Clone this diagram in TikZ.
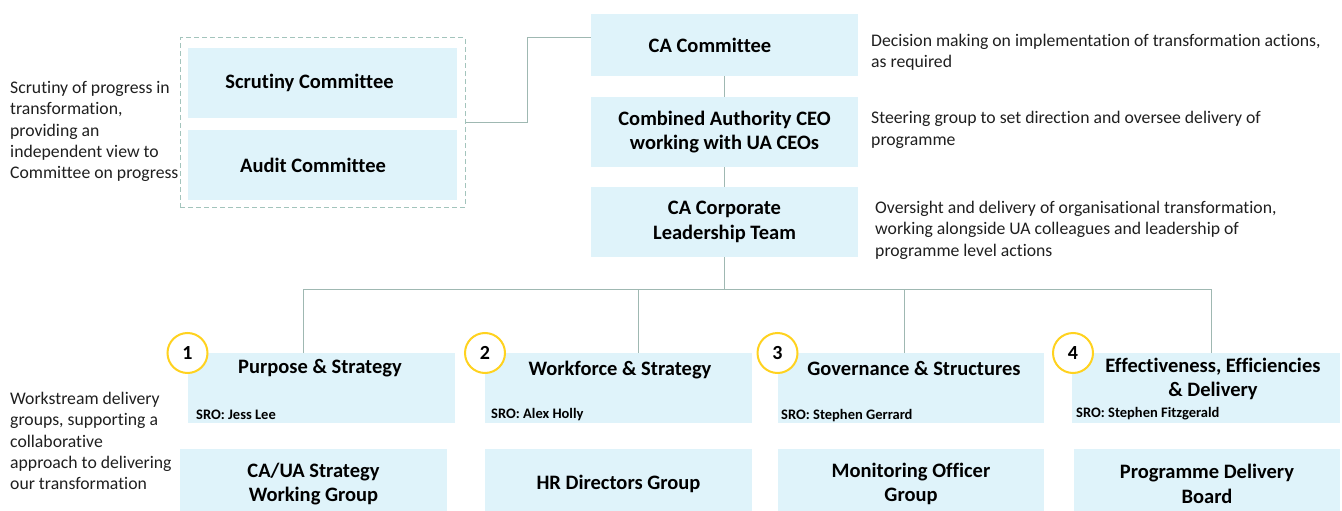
\documentclass[tikz,border=0pt]{standalone}
\usepackage{fontspec}
\setmainfont{Carlito}[Ligatures=NoCommon]
\definecolor{boxfill}{HTML}{DFF3FA}
\definecolor{linecol}{HTML}{9FB8B2}
\definecolor{dashcol}{HTML}{A3C4BC}
\definecolor{ringcol}{HTML}{FFD21F}
\tikzset{
 orgbox/.style={fill=boxfill, draw=none, inner sep=0pt, align=center, font=\fontsize{20.5}{24.3}\selectfont\bfseries},
 titletext/.style={inner sep=0pt, align=center, font=\fontsize{20.5}{24.3}\selectfont\bfseries},
 desc/.style={inner sep=0pt, align=left, anchor=west, font=\fontsize{17.7}{21.4}\selectfont, text=black!88},
 srotext/.style={inner sep=0pt, anchor=west, font=\fontsize{14.5}{16}\selectfont\bfseries},
 ring/.style={circle, draw=ringcol, line width=2pt, fill=white, minimum size=40pt, inner sep=0pt, font=\fontsize{20}{22}\selectfont\bfseries},
 conn/.style={draw=linecol, line width=1pt},
 dashbox/.style={draw=dashcol, dash pattern=on 5pt off 3pt, line width=1pt, inner sep=0pt},
}
\begin{document}
\begin{tikzpicture}[x=1pt,y=-1pt]
\useasboundingbox (0,0) rectangle (1342,511);

% left descriptions
\node[desc] (scrdesc) at (10,131.5) {Scrutiny of progress in\\transformation,\\providing an\\independent view to\\Committee on progress};
\node[desc] (wsdesc) at (10,441) {Workstream delivery\\groups, supporting a\\collaborative\\approach to delivering\\our transformation};

% scrutiny group
\node[dashbox, minimum width=285pt, minimum height=169pt] (grp) at (322.5,122.5) {};
\node[orgbox, minimum width=269pt, minimum height=70pt] (scr) at (322.5,83) {\hspace*{-26pt}Scrutiny Committee};
\node[orgbox, minimum width=269pt, minimum height=70pt] (aud) at (322.5,165) {\hspace*{-19pt}Audit Committee};

% central column
\node[orgbox, minimum width=267pt, minimum height=62pt] (cacom) at (724.5,45) {\hspace*{-29pt}CA Committee};
\node[orgbox, minimum width=267pt, minimum height=70pt] (ceo) at (724.5,132) {Combined Authority CEO\\working with UA CEOs};
\node[orgbox, minimum width=267pt, minimum height=70pt] (clt) at (724.5,222) {CA Corporate\\Leadership Team};

% right descriptions
\node[desc] (d1) at (871,52) {Decision making on implementation of transformation actions,\\as required};
\node[desc] (d2) at (871,130) {Steering group to set direction and oversee delivery of\\programme};
\node[desc] (d3) at (875,230) {Oversight and delivery of organisational transformation,\\working alongside UA colleagues and leadership of\\programme level actions};

% workstream boxes
\node[orgbox, minimum width=267pt, minimum height=70pt] (w1) at (321,388) {};
\node[orgbox, minimum width=267pt, minimum height=70pt] (w2) at (618.5,388) {};
\node[orgbox, minimum width=266pt, minimum height=70pt] (w3) at (911,388) {};
\node[orgbox, minimum width=268pt, minimum height=70pt] (w4) at (1206,388) {};

\node[titletext] (t1) at (320,368) {Purpose \& Strategy};
\node[titletext] (t2) at (620,370) {Workforce \& Strategy};
\node[titletext] (t3) at (914,368) {Governance \& Structures};
\node[titletext] (t4) at (1213,379) {Effectiveness, Efficiencies\\\& Delivery};

\node[srotext] (s1) at (196,415) {SRO: Jess Lee};
\node[srotext] (s2) at (491,415) {SRO: Alex Holly};
\node[srotext] (s3) at (781,416) {SRO: Stephen Gerrard};
\node[srotext] (s4) at (1076,414) {SRO: Stephen Fitzgerald};

% delivery groups
\node[orgbox, minimum width=267pt, minimum height=70pt] (g1) at (313.5,484) {CA/UA Strategy\\Working Group};
\node[orgbox, minimum width=267pt, minimum height=70pt] (g2) at (618.5,484) {HR Directors Group};
\node[orgbox, minimum width=266pt, minimum height=70pt] (g3) at (911,484) {Monitoring Officer\\Group};
\node[orgbox, minimum width=266pt, minimum height=70pt] (g4) at (1207,484) {Programme Delivery\\Board};

% connectors
\draw[conn] (grp.east) -- ++(62,0) |- ([yshift=7pt]cacom.west);
\draw[conn] (cacom) -- (ceo);
\draw[conn] (ceo) -- (clt);
\coordinate (bus) at (724.5,289);
\coordinate (b1) at (303,289);
\coordinate (b2) at (638,289);
\coordinate (b3) at (904,289);
\coordinate (b4) at (1211,289);
\draw[conn] (clt.south) -- (bus);
\draw[conn] (b1) -- (b4);
\draw[conn] (b1) -- (b1 |- w1.north);
\draw[conn] (b2) -- (b2 |- w2.north);
\draw[conn] (b3) -- (b3 |- w3.north);
\draw[conn] (b4) -- (b4 |- w4.north);

% number rings
\node[ring] (c1) at (187.5,353) {1};
\node[ring] (c2) at (485,353) {2};
\node[ring] (c3) at (777.5,353) {3};
\node[ring] (c4) at (1073,353) {4};
\end{tikzpicture}
\end{document}
